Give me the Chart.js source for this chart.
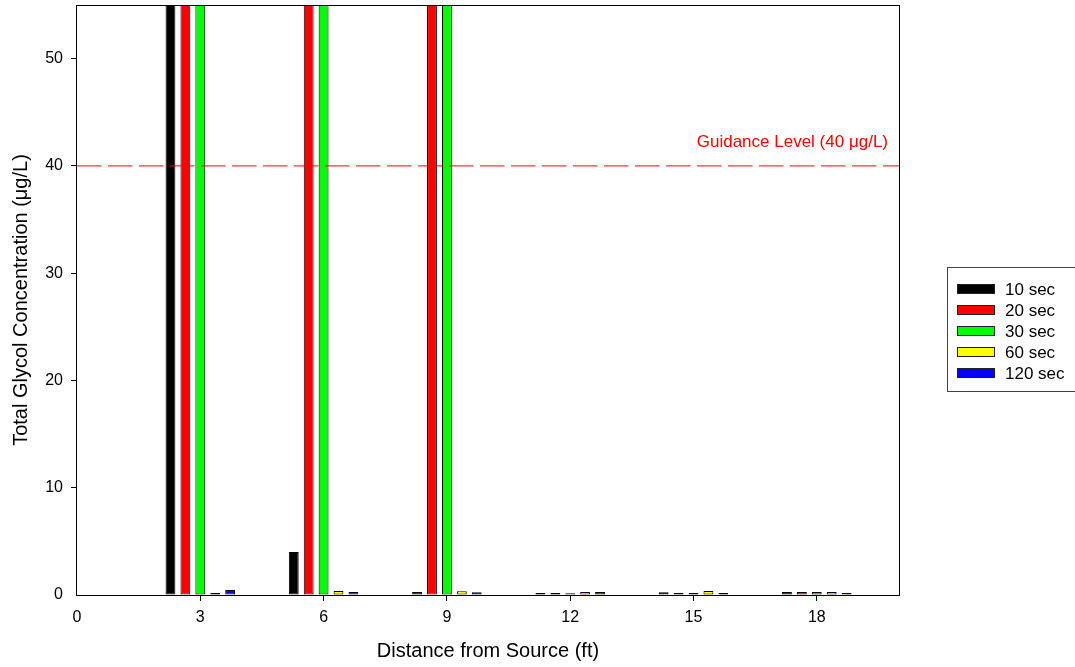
<!DOCTYPE html>
<html><head><meta charset="utf-8">
<script src="https://cdn.jsdelivr.net/npm/chart.js@4.4.1/dist/chart.umd.min.js"></script>
<style>html,body{margin:0;padding:0;background:#fff;} #wrap{width:1075px;height:667px;}</style>
</head><body><div id="wrap"><canvas id="c" width="1075" height="667"></canvas></div>
<script>
// Data (values above 55 are off-scale and clipped at the top of the plot)
const distances = [3, 6, 9, 12, 15, 18];
const seriesLabels = ['10 sec', '20 sec', '30 sec', '60 sec', '120 sec'];
const sec10  = [90, 4.0, 0.28, 0.19, 0.25, 0.28];
const sec20  = [90, 90, 90, 0.19, 0.19, 0.28];
const sec30  = [90, 90, 90, 0.17, 0.19, 0.28];
const sec60  = [0.19, 0.37, 0.35, 0.28, 0.37, 0.28];
const sec120 = [0.47, 0.28, 0.25, 0.28, 0.19, 0.19];
const seriesColors = ['#000000', '#ff0000', '#00ff00', '#ffff00', '#0000ff'];
const guidanceLevel = 40;
const guidanceText = 'Guidance Level (40 \u03bcg/L)';
const xTicks = [0, 3, 6, 9, 12, 15, 18];
const yTicks = [0, 10, 20, 30, 40, 50];
const xTitle = 'Distance from Source (ft)';
const yTitle = 'Total Glycol Concentration (\u03bcg/L)';

const FONT = "'Liberation Sans', Arial, sans-serif";
Chart.defaults.font.family = FONT;
Chart.defaults.color = '#000';

const allSeries = [sec10, sec20, sec30, sec60, sec120];
const barSets = allSeries.map((vals, k) => ({
  type: 'bar',
  label: seriesLabels[k],
  data: distances.map((d, i) => ({x: d, y: vals[i]})),
  backgroundColor: seriesColors[k],
  borderColor: '#000',
  borderWidth: 1,
  borderSkipped: false,
  categoryPercentage: 0.605,
  barPercentage: 0.66,
  clip: 0,
  order: 0
}));
const guideSet = {
  type: 'line',
  label: 'guidance',
  data: [{x: 0, y: guidanceLevel}, {x: 20, y: guidanceLevel}],
  borderColor: '#ff0000',
  borderWidth: 1,
  borderDash: [24.5, 6.5],
  pointRadius: 0,
  fill: false,
  order: -1
};

const tickColor = ctx => (ctx.tick && ctx.tick.value === 0) ? 'rgba(0,0,0,0)' : '#000';

const decorPlugin = {
  id: 'decor',
  afterDatasetsDraw(chart) {
    const {ctx, chartArea: a, scales} = chart;
    ctx.save();
    ctx.strokeStyle = '#000';
    ctx.lineWidth = 1;
    const l = Math.round(a.left) - 0.5, t = Math.round(a.top) + 0.5;
    const r = Math.round(a.right) + 0.5, b = Math.round(a.bottom) + 0.5;
    ctx.strokeRect(l, t, r - l, b - t);
    // guidance label
    ctx.fillStyle = '#ff0000';
    ctx.font = '17px ' + FONT;
    ctx.textAlign = 'right';
    ctx.textBaseline = 'middle';
    ctx.fillText(guidanceText, scales.x.getPixelForValue(20) - 11, scales.y.getPixelForValue(guidanceLevel) - 24);
    ctx.restore();
  },
  afterDraw(chart) {
    const {ctx} = chart;
    ctx.save();
    ctx.strokeStyle = '#444';
    ctx.lineWidth = 1;
    ctx.strokeRect(947.5, 267.5, 140, 124);
    ctx.font = '17px ' + FONT;
    ctx.textAlign = 'left';
    ctx.textBaseline = 'middle';
    seriesLabels.forEach((lab, k) => {
      const cy = 289 + k * 21;
      ctx.fillStyle = seriesColors[k];
      ctx.fillRect(957, cy - 5, 38, 10);
      ctx.strokeStyle = '#222';
      ctx.strokeRect(957.5, cy - 4.5, 37, 9);
      ctx.fillStyle = '#000';
      ctx.fillText(lab, 1005, cy + 1);
    });
    ctx.restore();
  }
};

new Chart(document.getElementById('c'), {
  data: { datasets: [guideSet, ...barSets] },
  options: {
    responsive: false,
    animation: false,
    devicePixelRatio: 1,
    layout: { padding: { top: 5, right: 176, left: 0, bottom: 0 } },
    plugins: { legend: { display: false }, tooltip: { enabled: false } },
    scales: {
      x: {
        type: 'linear', min: 0, max: 20, offset: false,
        afterBuildTicks: s => { s.ticks = xTicks.map(v => ({value: v})); },
        afterFit: s => { s.height = 72; s.paddingLeft = 0; s.paddingRight = 0; },
        grid: { offset: false, drawOnChartArea: false, tickLength: 6, color: tickColor, lineWidth: 1 },
        border: { display: false },
        ticks: { font: { size: 16 }, color: '#000', padding: 7, maxRotation: 0, autoSkip: false },
        title: { display: true, text: xTitle, font: { size: 20 }, color: '#000', padding: { top: 0, bottom: 4 } }
      },
      y: {
        type: 'linear', min: 0, max: 55,
        afterBuildTicks: s => { s.ticks = yTicks.map(v => ({value: v})); },
        afterFit: s => { s.width = 77; s.paddingTop = 0; s.paddingBottom = 0; },
        grid: { offset: false, drawOnChartArea: false, tickLength: 6, color: tickColor, lineWidth: 1 },
        border: { display: false },
        ticks: { font: { size: 16 }, color: '#000', padding: 8 },
        title: { display: true, text: yTitle, font: { size: 20 }, color: '#000', padding: { top: 9, bottom: 0 } }
      }
    }
  },
  plugins: [decorPlugin]
});
</script>
</body></html>
